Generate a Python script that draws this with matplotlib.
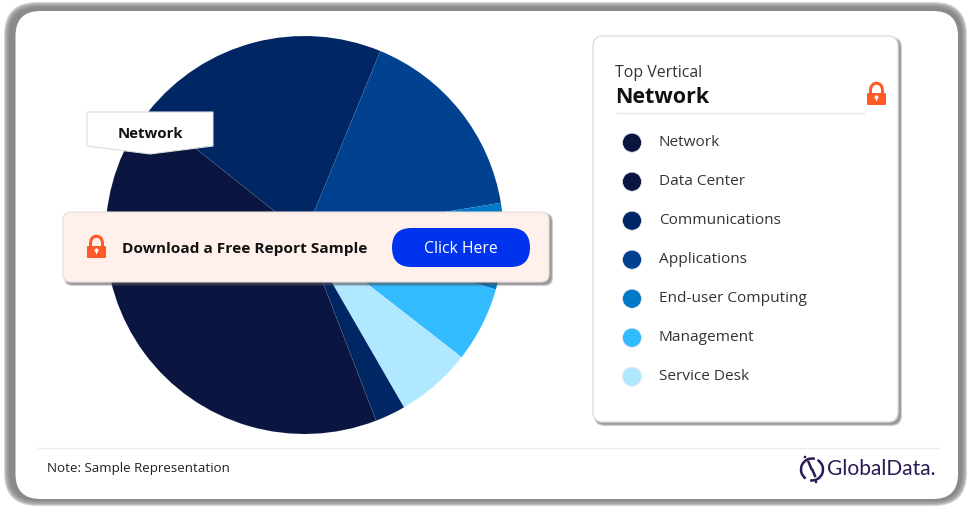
#!/usr/bin/env python3
"""
    Top Vertical pie chart with the download banner and legend card
"""

import matplotlib
matplotlib.use('Agg')
from matplotlib import pyplot as plt
from matplotlib.patches import FancyBboxPatch, Polygon, Circle, Arc, Rectangle

W, H = 975, 511

plt.rcParams['font.family'] = ['Open Sans', 'DejaVu Sans']

# Share of the pie in degrees, clockwise from the Applications slice
slice_values = [58.3, 25.2, 22.0, 22.1, 8.9, 149.6, 73.9]
slice_colors = ['#00428F', '#0078C8', '#33BBFF', '#B0E8FF',
                '#002663', '#0A1640', '#002663']

legend_labels = ['Network', 'Data Center', 'Communications', 'Applications',
                 'End-user Computing', 'Management', 'Service Desk']
legend_colors = ['#0A1640', '#0A1640', '#002663', '#00428F',
                 '#0078C8', '#33BBFF', '#B0E8FF']

ORANGE = '#FF5A26'
INK = '#111111'


def layer(z):
    # An axes covering the figure, its units are reference pixels
    ax = fig.add_axes([0, 0, 1, 1], zorder=z)
    ax.set_xlim(0, W)
    ax.set_ylim(H, 0)
    ax.axis('off')
    return ax


def rbox(ax, x0, y0, x1, y1, r, **kw):
    box = FancyBboxPatch((x0 + r, y0 + r), x1 - x0 - 2 * r, y1 - y0 - 2 * r,
                         boxstyle=f'round,pad={r},rounding_size={r}', **kw)
    ax.add_patch(box)


def shadow(ax, x0, y0, x1, y1, r, dx=2.5, dy=2.5, steps=4):
    # Stacked translucent boxes give a soft edge
    for i in range(steps):
        g = steps - 1 - i
        rbox(ax, x0 + dx - g * .5, y0 + dy - g * .5, x1 + dx + g * .5,
             y1 + dy + g * .5, r, fc='#555555', ec='none', alpha=.2)


def lock(ax, cx, cy):
    ax.add_patch(Arc((cx, cy - 4.5), 11.5, 11.5, theta1=180, theta2=360,
                     ec=ORANGE, lw=2.2))
    ax.add_patch(Rectangle((cx - 7.25, cy - 4.5), 3, 5, fc=ORANGE, ec='none'))
    ax.add_patch(Rectangle((cx + 4.25, cy - 4.5), 3, 5, fc=ORANGE, ec='none'))
    rbox(ax, cx - 9.5, cy - .5, cx + 9.5, cy + 11.5, 1, fc=ORANGE, ec='none')
    ax.add_patch(Circle((cx, cy + 4), 2, fc='white', ec='none'))
    ax.add_patch(Rectangle((cx - .8, cy + 4), 1.6, 3.5, fc='white', ec='none'))


fig = plt.figure(figsize=(W / 100, H / 100), dpi=100, facecolor='white')

# Window frame
bg = layer(0)
for i in range(6):
    rbox(bg, 9 - i, 7 - i, 962 + i, 501 + i, 28 + i, fc='#8A8A8A', ec='none',
         alpha=.35 if i else 1)
rbox(bg, 15.5, 11, 958, 499, 25, fc='white', ec='none')
bg.plot([38, 938], [448, 448], color='#EBEBEB', lw=1)

# Pie
pie_ax = fig.add_axes([105.5 / W, (H - 434) / H, 398 / W, 398 / H], zorder=1)
pie_ax.pie(slice_values, colors=slice_colors, startangle=67.6, counterclock=False,
           radius=1, wedgeprops={'edgecolor': (1, 1, 1, .06), 'linewidth': .5})
pie_ax.set_xlim(-1, 1)
pie_ax.set_ylim(-1, 1)

ax = layer(2)

# Slice label
ax.add_patch(Polygon([(87, 112), (213, 112), (213, 146), (150, 154), (87, 146)],
                     fc='white', ec='#DDDDDD', lw=.8))
ax.text(150, 137.7, 'Network', ha='center', va='baseline', fontsize=10.8,
        fontweight='bold', color=INK)

# Download banner
shadow(ax, 63, 212, 549, 282, 8)
rbox(ax, 63, 212, 549, 282, 8, fc='#FFF0EB', ec='#E3DEDC', lw=.8)
lock(ax, 96.5, 246.5)
ax.text(122, 252.7, 'Download a Free Report Sample', ha='left', va='baseline',
        fontsize=11.1, fontweight='bold', color=INK)
rbox(ax, 392, 228, 530, 267, 19.5, fc='#0033EE', ec='none')
ax.text(461, 253, 'Click Here', ha='center', va='baseline', fontsize=11.3,
        color='white')

# Legend card
shadow(ax, 593, 36, 898, 422, 10)
rbox(ax, 593, 36, 898, 422, 10, fc='white', ec='#DDDDDD', lw=1)
ax.text(615, 77, 'Top Vertical', ha='left', va='baseline', fontsize=11.4,
        color='#333333')
ax.text(615, 103, 'Network', ha='left', va='baseline', fontsize=15.5,
        fontweight='bold', color=INK)
ax.plot([617, 864], [113.5, 113.5], color='#E6E6E6', lw=1)
lock(ax, 876.5, 93.5)

for i, (label, color) in enumerate(zip(legend_labels, legend_colors)):
    ax.add_patch(Circle((632, 142.7 + i * 39), 9.5, fc=color, ec='#E4E7F0', lw=.5))
    ax.text(659, 146 + i * 39, label, ha='left', va='baseline', fontsize=11.1,
            color='#333333')

# Footer
ax.text(47, 472, 'Note: Sample Representation', ha='left', va='baseline',
        fontsize=9.6, color='#222222')

LOGO = '#2A1A55'
ax.add_patch(Arc((812, 469.5), 22, 22, theta1=-60, theta2=100, ec=LOGO, lw=1.8))
ax.add_patch(Arc((812, 469.5), 22, 22, theta1=125, theta2=285, ec=LOGO, lw=1.8))
ax.plot([808.5, 811.5], [462, 469], color=LOGO, lw=1.8)
ax.plot([812.5, 815], [470, 476], color=LOGO, lw=1.8)
ax.add_patch(Circle((805, 457), 1.3, fc=LOGO, ec='none'))
ax.add_patch(Circle((816, 482), 1.3, fc=LOGO, ec='none'))
ax.text(827, 475, 'GlobalData.', ha='left', va='baseline', fontsize=15.1,
        color=LOGO, family=['Lato', 'DejaVu Sans'])

fig.savefig('out.png', dpi=100)
